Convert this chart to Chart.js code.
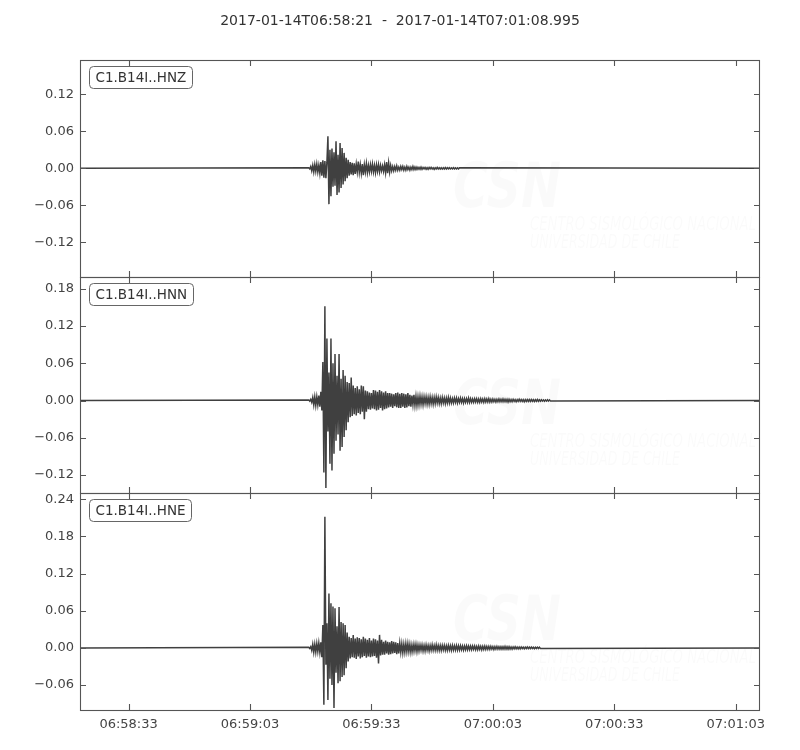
<!DOCTYPE html>
<html><head><meta charset="utf-8">
<script src="https://cdn.jsdelivr.net/npm/chart.js@4.4.1/dist/chart.umd.min.js"></script>
<style>html,body{margin:0;padding:0;background:#fff;}#wrap{width:800px;height:750px;position:relative;}</style>
</head><body><div id="wrap"><canvas id="c" width="800" height="750"></canvas></div>
<script>
const titleText = '2017-01-14T06:58:21  -  2017-01-14T07:01:08.995';
const channels = ['C1.B14I..HNZ', 'C1.B14I..HNN', 'C1.B14I..HNE'];
// time in seconds after 06:58:21
const traceStart = 0;
const traceEnd = 167.995;
const activeStart = 56.5;
const sampleStep = 0.25;
// per-sample amplitude extremes (alternating)
const hnz = [0.0008,-0.001,0.003,-0.004,0.005,-0.006,0.006,-0.005,0.007,-0.006,
0.005,-0.008,0.010,-0.012,0.013,-0.015,0.012,-0.016,0.010,0.052,
-0.058,0.030,-0.045,0.032,-0.030,0.026,-0.028,0.044,-0.043,0.022,
-0.039,0.041,-0.032,0.033,-0.026,0.025,-0.021,0.017,-0.016,0.014,
-0.012,0.010,-0.010,0.009,-0.011,0.008,-0.009,0.007,-0.006,0.011,
-0.007,0.006,-0.008,0.007,-0.011,0.006,-0.006,0.008,-0.007,0.005,
-0.006,0.006,-0.005,0.007,-0.006,0.005,-0.007,0.006,-0.005,0.006,
-0.006,0.005,-0.004,0.004,-0.005,0.006,-0.007,0.010,-0.008,0.009,
-0.006,0.005,-0.004,0.003,-0.004,0.003,-0.003,0.004,-0.003,0.002,
-0.003,0.003,-0.002,0.003,-0.003,0.002,-0.003,0.003,-0.002,0.002,
-0.003,0.002,-0.002,0.003,-0.002,0.002,-0.002,0.002,-0.0015,0.0015,
-0.0015,0.002,-0.0015,0.0015,-0.001,0.0015,-0.0015,0.001,-0.0015,0.0015,
-0.001,0.0015,-0.001,0.001,-0.0015,0.001,-0.001,0.0015,-0.001,0.001,
-0.001,0.001,-0.0012,0.001,-0.001,0.0012,-0.001,0.001,-0.0008,0.001,
-0.001,0.0008,-0.001,0.001,-0.0008,0.0008,-0.001,0.0008,-0.0008,0.0008];
const hnn = [0.001,-0.001,0.002,-0.003,0.005,-0.007,0.006,-0.008,0.006,-0.007,
0.008,-0.010,0.014,-0.016,0.062,-0.116,0.152,-0.141,0.100,-0.050,
0.045,-0.102,0.100,-0.113,0.060,-0.086,0.075,-0.065,0.040,-0.055,
0.075,-0.081,0.035,-0.075,0.049,-0.059,0.040,-0.048,0.030,-0.035,
0.028,-0.027,0.037,-0.025,0.024,-0.022,0.020,-0.024,0.023,-0.020,
0.018,-0.022,0.024,-0.018,0.023,-0.030,0.016,-0.018,0.015,-0.014,
0.013,-0.015,0.012,-0.013,0.017,-0.014,0.016,-0.016,0.014,-0.015,
0.017,-0.012,0.015,-0.016,0.013,-0.014,0.015,-0.013,0.012,-0.011,
0.012,-0.010,0.011,-0.012,0.010,-0.009,0.012,-0.011,0.013,-0.012,
0.011,-0.012,0.012,-0.010,0.011,-0.012,0.010,-0.011,0.012,-0.009,
0.009,-0.010,0.008,-0.007,0.009,-0.008,0.007,-0.008,0.006,-0.007,
0.007,-0.006,0.006,-0.007,0.006,-0.005,0.006,-0.006,0.005,-0.006,
0.006,-0.005,0.005,-0.006,0.005,-0.005,0.006,-0.004,0.005,-0.005,
0.004,-0.005,0.005,-0.004,0.004,-0.005,0.004,-0.004,0.005,-0.004,
0.004,-0.004,0.003,-0.004,0.004,-0.003,0.004,-0.004,0.003,-0.003,
0.004,-0.003,0.003,-0.004,0.003,-0.003,0.003,-0.003,0.004,-0.003,
0.003,-0.003,0.0025,-0.003,0.003,-0.0025,0.003,-0.003,0.0025,-0.003,
0.003,-0.0025,0.0025,-0.003,0.003,-0.0025,0.0025,-0.0025,0.003,-0.0025,
0.002,-0.0025,0.0025,-0.002,0.002,-0.0025,0.002,-0.002,0.0025,-0.002,
0.002,-0.002,0.0025,-0.002,0.002,-0.002,0.002,-0.0025,0.002,-0.002,
0.0015,-0.002,0.002,-0.0015,0.0015,-0.002,0.0015,-0.0015,0.002,-0.0015,
0.0015,-0.0015,0.0015,-0.002,0.0015,-0.0015,0.0015,-0.0015,0.0015,-0.0015,
0.0015,-0.0012,0.0012,-0.0015,0.0012,-0.0012,0.0015,-0.0012,0.0012,-0.0012,
0.0012,-0.001,0.001,-0.0012,0.001,-0.001,0.0012,-0.001,0.001,-0.001];
const hne = [0.001,-0.001,0.002,-0.004,0.006,-0.007,0.006,-0.007,0.007,-0.006,
0.008,-0.007,0.009,-0.015,0.037,-0.092,0.212,-0.027,0.040,-0.084,
0.088,-0.050,0.072,-0.060,0.067,-0.097,0.064,-0.040,0.035,-0.057,
0.066,-0.054,0.042,-0.047,0.040,-0.044,0.037,-0.033,0.025,-0.022,
0.018,-0.017,0.016,-0.015,0.021,-0.016,0.015,-0.018,0.017,-0.014,
0.016,-0.017,0.014,-0.015,0.018,-0.013,0.015,-0.016,0.013,-0.014,
0.016,-0.015,0.012,-0.014,0.015,-0.013,0.014,-0.016,0.012,-0.025,
0.021,-0.012,0.013,-0.011,0.010,-0.011,0.012,-0.009,0.010,-0.011,
0.009,-0.010,0.011,-0.009,0.010,-0.008,0.009,-0.010,0.008,-0.009,
0.008,-0.007,0.007,-0.008,0.006,-0.007,0.007,-0.006,0.007,-0.006,
0.006,-0.007,0.005,-0.006,0.006,-0.005,0.006,-0.006,0.005,-0.005,
0.005,-0.004,0.005,-0.005,0.004,-0.005,0.005,-0.004,0.004,-0.005,
0.004,-0.004,0.005,-0.004,0.004,-0.004,0.005,-0.004,0.004,-0.004,
0.004,-0.004,0.004,-0.0035,0.004,-0.004,0.0035,-0.004,0.004,-0.0035,
0.0035,-0.004,0.004,-0.0035,0.0035,-0.0035,0.004,-0.0035,0.0035,-0.0035,
0.0035,-0.003,0.003,-0.0035,0.003,-0.003,0.0035,-0.003,0.003,-0.003,
0.003,-0.003,0.003,-0.0025,0.003,-0.003,0.0025,-0.003,0.003,-0.0025,
0.0025,-0.003,0.0025,-0.0025,0.003,-0.0025,0.0025,-0.0025,0.0025,-0.0025,
0.0025,-0.002,0.002,-0.0025,0.002,-0.002,0.0025,-0.002,0.002,-0.002,
0.002,-0.002,0.002,-0.002,0.0025,-0.002,0.002,-0.002,0.002,-0.002,
0.0015,-0.002,0.0015,-0.0015,0.002,-0.0015,0.0015,-0.0015,0.0015,-0.0015,
0.0015,-0.0012,0.0012,-0.0015,0.0012,-0.0012,0.0015,-0.0012,0.0012,-0.0012,
0.0012,-0.001,0.001,-0.0012,0.001,-0.001,0.0012,-0.001,0.001,-0.001];
const xTickValues = [12, 42, 72, 102, 132, 162];
const xTickLabels = ['06:58:33', '06:59:03', '06:59:33', '07:00:03', '07:00:33', '07:01:03'];
const yTicksZ = [-0.12, -0.06, 0, 0.06, 0.12];
const yTicksN = [-0.12, -0.06, 0, 0.06, 0.12, 0.18];
const yTicksE = [-0.06, 0, 0.06, 0.12, 0.18, 0.24];
const yRangeZ = [-0.1755, 0.1755];
const yRangeN = [-0.1497, 0.1997];
const yRangeE = [-0.1003, 0.2497];

const FONT = 'DejaVu Sans';
const INK = '#444444';
const FRAME = '#555555';

function tracePoints(vals) {
  const pts = [{x: traceStart, y: 0}];
  vals.forEach((v, i) => pts.push({x: activeStart + i * sampleStep, y: v}));
  pts.push({x: traceEnd, y: 0});
  return pts;
}

const panels = [
  {id: 'yZ', label: channels[0], ticks: yTicksZ, range: yRangeZ, data: hnz, weight: 3},
  {id: 'yN', label: channels[1], ticks: yTicksN, range: yRangeN, data: hnn, weight: 2},
  {id: 'yE', label: channels[2], ticks: yTicksE, range: yRangeE, data: hne, weight: 1}
];

function fmtY(v) {
  const s = Math.abs(v).toFixed(2);
  return (v < -1e-9 ? '\u2212' : '') + s;
}

const scales = {
  x: {
    type: 'linear', position: 'bottom', min: traceStart, max: traceEnd,
    grid: {display: false, drawTicks: false}, border: {display: false},
    afterBuildTicks: s => { s.ticks = xTickValues.map(v => ({value: v})); },
    afterFit: s => { s.height = 40; },
    ticks: {padding: 7, maxRotation: 0, autoSkip: false, color: INK,
      font: {family: FONT, size: 13},
      callback: v => xTickLabels[xTickValues.indexOf(v)]}
  }
};
panels.forEach(p => {
  scales[p.id] = {
    type: 'linear', position: 'left', stack: 'traces', stackWeight: 1, weight: p.weight,
    min: p.range[0], max: p.range[1],
    grid: {display: false, drawTicks: false}, border: {display: false},
    afterBuildTicks: s => { s.ticks = p.ticks.map(v => ({value: v})); },
    afterFit: s => { s.width = 80; },
    ticks: {padding: 6, autoSkip: false, color: INK, font: {family: FONT, size: 13}, callback: v => fmtY(v)}
  };
});

const watermark = {
  id: 'watermark',
  beforeDatasetsDraw(chart) {
    const ctx = chart.ctx;
    panels.forEach(p => {
      const top = chart.scales[p.id].top;
      ctx.save();
      ctx.fillStyle = 'rgba(0,0,0,0.018)';
      ctx.strokeStyle = 'rgba(0,0,0,0.018)';
      ctx.textBaseline = 'alphabetic';
      ctx.font = 'italic bold 62px "DejaVu Sans"';
      ctx.fillText('CSN', 453, top + 147, 108);
      ctx.font = 'italic 19px "Liberation Sans Narrow", "DejaVu Sans Condensed", "DejaVu Sans"';
      ctx.fillText('CENTRO SISMOLÓGICO NACIONAL', 530, top + 170, 226);
      ctx.fillText('UNIVERSIDAD DE CHILE', 530, top + 188, 150);
      ctx.restore();
    });
  }
};

const frames = {
  id: 'frames',
  afterDatasetsDraw(chart) {
    const ctx = chart.ctx;
    const ca = chart.chartArea;
    const xs = chart.scales.x;
    // figure title, centred on the page
    ctx.save();
    ctx.font = '14px "DejaVu Sans"';
    ctx.fillStyle = '#333333';
    ctx.textAlign = 'center';
    ctx.textBaseline = 'middle';
    ctx.fillText(titleText, chart.width / 2, 21);
    ctx.restore();
    panels.forEach(p => {
      const ys = chart.scales[p.id];
      const top = Math.round(ys.top), bottom = Math.round(ys.bottom);
      ctx.save();
      ctx.strokeStyle = FRAME;
      ctx.lineWidth = 1.1;
      ctx.strokeRect(ca.left + 0.5, top + 0.5, ca.right - ca.left - 1, bottom - top);
      ctx.beginPath();
      p.ticks.forEach(v => {
        const y = Math.round(ys.getPixelForValue(v)) + 0.5;
        ctx.moveTo(ca.left, y); ctx.lineTo(ca.left + 6, y);
        ctx.moveTo(ca.right, y); ctx.lineTo(ca.right - 6, y);
      });
      xTickValues.forEach(v => {
        const x = Math.round(xs.getPixelForValue(v)) + 0.5;
        ctx.moveTo(x, top); ctx.lineTo(x, top + 6);
        ctx.moveTo(x, bottom); ctx.lineTo(x, bottom - 6);
      });
      ctx.stroke();
      // channel label box
      ctx.font = '13.5px "DejaVu Sans"';
      const tw = ctx.measureText(p.label).width;
      const bx = ca.left + 9.5, by = top + 6.5, bw = Math.round(tw + 12), bh = 22;
      ctx.beginPath();
      if (ctx.roundRect) ctx.roundRect(bx, by, bw, bh, 4); else ctx.rect(bx, by, bw, bh);
      ctx.fillStyle = '#ffffff';
      ctx.fill();
      ctx.lineWidth = 1;
      ctx.strokeStyle = '#666666';
      ctx.stroke();
      ctx.fillStyle = '#333333';
      ctx.textBaseline = 'middle';
      ctx.fillText(p.label, bx + 6, by + bh / 2 + 0.5);
      ctx.restore();
    });
  }
};

new Chart(document.getElementById('c'), {
  type: 'line',
  data: {
    datasets: panels.map(p => ({
      label: p.label, yAxisID: p.id, xAxisID: 'x',
      data: tracePoints(p.data),
      borderColor: '#404040', borderWidth: 1.5, pointRadius: 0, tension: 0, fill: false
    }))
  },
  options: {
    responsive: false, animation: false,
    layout: {padding: {left: 0, right: 40, top: 60, bottom: 0}},
    scales,
    plugins: {legend: {display: false}, tooltip: {enabled: false}, title: {display: false}}
  },
  plugins: [watermark, frames]
});
</script>
</body></html>
